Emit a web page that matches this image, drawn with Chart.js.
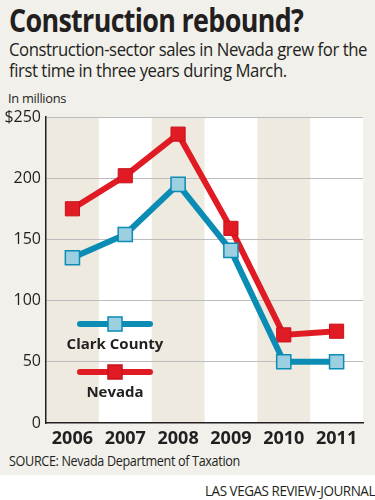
<!DOCTYPE html>
<html>
<head>
<meta charset="utf-8">
<script src="https://cdn.jsdelivr.net/npm/chart.js@4"></script>
<style>
  body { margin: 0; width: 375px; height: 500px; background: #fff; position: relative; overflow: hidden; }
  #panel { position: absolute; left: 0; top: 0; width: 375px; height: 475px; background: #f2f0eb; }
  canvas { position: absolute; left: 0; top: 0; }
  .txt { position: absolute; color: #231f20; font-family: "Open Sans", sans-serif; white-space: nowrap; transform-origin: 0 0; }
  #title { left: 9px; top: -2px; font-size: 32px; font-weight: 700; letter-spacing: -0.8px; transform: scaleX(0.84); }
  #sub { left: 9px; top: 39px; font-size: 17.5px; line-height: 21px; letter-spacing: -0.45px; transform: scaleX(0.955); }
  #unit { left: 8px; top: 89px; font-size: 13.5px; letter-spacing: -0.3px; transform: scaleX(0.95); }
  #source { left: 9px; top: 451px; font-size: 14.5px; letter-spacing: -0.4px; transform: scaleX(0.87); }
  #credit { left: 205px; top: 481px; font-size: 14.5px; letter-spacing: -0.5px; transform: scaleX(0.93); }
</style>
</head>
<body>
<div id="panel"></div>
<div class="txt" id="title">Construction rebound?</div>
<div class="txt" id="sub">Construction-sector sales in Nevada grew for the<br>first time in three years during March.</div>
<div class="txt" id="unit">In millions</div>
<div class="txt" id="source">SOURCE: Nevada Department of Taxation</div>
<div class="txt" id="credit">LAS VEGAS REVIEW-JOURNAL</div>
<canvas id="myChart" width="375" height="500"></canvas>
<script>
"use strict";

const years = ["2006", "2007", "2008", "2009", "2010", "2011"];
const clarkCounty = [135, 154, 195, 141, 50, 50];
const nevada = [175, 202, 236, 159, 72, 75];
const yTicks = [0, 50, 100, 150, 200, 250];

const red = "#e01b24";
const blue = "#0b8cb4";
const lightBlue = "#9ccfe0";

// alternating column bands behind the lines
const bandPlugin = {
  id: "bands",
  beforeDraw(chart) {
    const ctx = chart.ctx;
    const area = chart.chartArea;
    const x = chart.scales.x;
    const w = (area.right - area.left) / years.length;
    ctx.save();
    ctx.fillStyle = "#ffffff";
    ctx.fillRect(area.left, area.top, area.right - area.left, area.bottom - area.top);
    for (let i = 0; i < years.length; i++) {
      if (i % 2 === 0) {
        const cx = x.getPixelForValue(i);
        ctx.fillStyle = "#eeeae0";
        ctx.fillRect(cx - w / 2, area.top, w, area.bottom - area.top);
      }
    }
    ctx.restore();
  }
};

// legend drawn inside the plot, lower left
const legendPlugin = {
  id: "insideLegend",
  afterDatasetsDraw(chart) {
    const ctx = chart.ctx;
    const area = chart.chartArea;
    const x0 = area.left + 34;
    const x1 = area.left + 104;
    const cx = (x0 + x1) / 2;
    const rows = [area.top + 207, area.top + 255];
    chart.data.datasets.forEach(function (ds, i) {
      const y = rows[i];
      ctx.save();
      ctx.strokeStyle = ds.borderColor;
      ctx.lineWidth = 6;
      ctx.lineCap = "round";
      ctx.beginPath();
      ctx.moveTo(x0, y);
      ctx.lineTo(x1, y);
      ctx.stroke();
      ctx.fillStyle = ds.pointBackgroundColor;
      ctx.strokeStyle = ds.pointBorderColor;
      ctx.lineWidth = 1.5;
      ctx.fillRect(cx - 7, y - 7, 14, 14);
      ctx.strokeRect(cx - 7, y - 7, 14, 14);
      ctx.fillStyle = "#231f20";
      ctx.font = "bold 15px 'Open Sans', sans-serif";
      ctx.textAlign = "center";
      ctx.textBaseline = "middle";
      ctx.fillText(ds.label, cx, y + 21);
      ctx.restore();
    });
  }
};

const data = {
  labels: years,
  datasets: [
    {
      label: "Clark County",
      data: clarkCounty,
      borderColor: blue,
      borderWidth: 6,
      pointStyle: "rect",
      pointRadius: 10,
      pointBackgroundColor: lightBlue,
      pointBorderColor: blue,
      pointBorderWidth: 1.5,
      tension: 0,
    },
    {
      label: "Nevada",
      data: nevada,
      borderColor: red,
      borderWidth: 6,
      pointStyle: "rect",
      pointRadius: 10,
      pointBackgroundColor: red,
      pointBorderColor: "#c8121b",
      pointBorderWidth: 1,
      tension: 0,
    },
  ],
};

const config = {
  type: "line",
  data: data,
  options: {
    responsive: false,
    animation: false,
    layout: { padding: { top: 117, right: 12, bottom: 47, left: 0 } },
    plugins: {
      legend: { display: false },
      tooltip: { enabled: false },
    },
    scales: {
      x: {
        offset: true,
        grid: { display: false, drawTicks: false },
        border: { color: "#231f20", width: 1.5 },
        ticks: {
          color: "#231f20",
          font: { family: "'Open Sans', sans-serif", size: 18, weight: "bold" },
          padding: 5,
        },
        afterFit(scale) { scale.height = 30; },
      },
      y: {
        min: 0,
        max: 250,
        afterBuildTicks(scale) {
          scale.ticks = yTicks.map(function (v) { return { value: v }; });
        },
        grid: {
          color: function (c) { return c.tick.value === 0 ? "rgba(0,0,0,0)" : "#bdbdbd"; },
          lineWidth: 1,
          drawTicks: false,
        },
        border: { color: "#231f20", width: 1.5 },
        ticks: {
          color: "#231f20",
          font: { family: "'Open Sans', sans-serif", size: 16 },
          padding: 5,
          callback: function (v) { return v === 250 ? "$250" : v; },
        },
        afterFit(scale) { scale.width = 46; },
      },
    },
  },
  plugins: [bandPlugin, legendPlugin],
};

const myChart = new Chart(document.getElementById("myChart"), config);
</script>
</body>
</html>
